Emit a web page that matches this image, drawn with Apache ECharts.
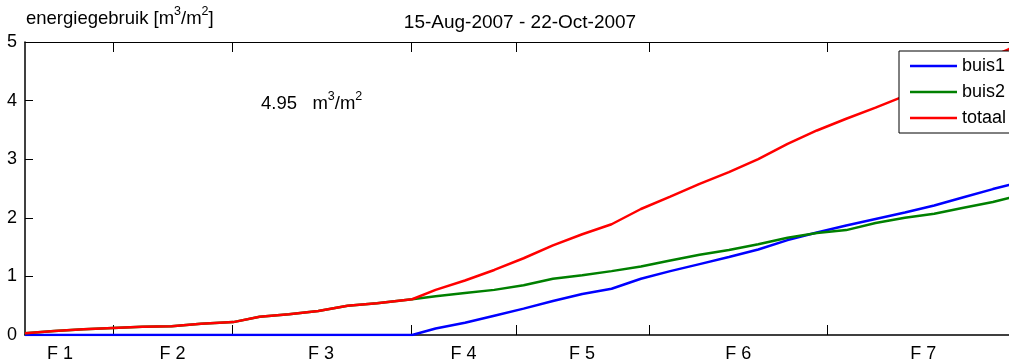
<!DOCTYPE html>
<html>
<head>
<meta charset="utf-8">
<script src="https://cdn.jsdelivr.net/npm/echarts@6/dist/echarts.min.js"></script>
<style>
html,body{margin:0;padding:0;background:#fff;}
#chart{width:1009px;height:363px;}
</style>
</head>
<body>
<div id="chart"></div>
<script>
// x positions in days since 15-Aug-2007
const days = [0,2,4,6,8,10,12,14.2,16,18,20,22,24,26.4,28,30,32,34,36,38,40,42,44,46,48,50,52,54,56,58,60,62,64,66,67.1,68];
const buis1 = [0,0,0,0,0,0,0,0,0,0,0,0,0,0,0.11,0.21,0.33,0.45,0.58,0.70,0.79,0.96,1.09,1.21,1.33,1.46,1.62,1.75,1.87,1.98,2.09,2.21,2.35,2.49,2.56,2.60];
const buis2 = [0.03,0.07,0.10,0.12,0.14,0.15,0.19,0.22,0.31,0.355,0.41,0.50,0.54,0.61,0.66,0.715,0.77,0.85,0.96,1.02,1.09,1.17,1.27,1.37,1.45,1.55,1.66,1.74,1.79,1.91,2.00,2.07,2.17,2.27,2.34,2.35];
const totaal = [0.03,0.07,0.10,0.12,0.14,0.15,0.19,0.22,0.31,0.355,0.41,0.50,0.54,0.61,0.77,0.93,1.11,1.31,1.53,1.72,1.89,2.15,2.36,2.58,2.78,3.00,3.26,3.49,3.69,3.88,4.08,4.28,4.52,4.76,4.88,4.95];
const seriesNames = ['buis1','buis2','totaal'];
const seriesColors = ['#0000ff','#008000','#ff0000'];
// phase boundaries and labels
const phaseBounds = [6.0,14.12,26.37,33.47,42.58,54.70];
const phaseLabelPos = [2.39,10.06,20.19,29.91,37.99,48.63,61.25];
const phaseLabels = ['F 1','F 2','F 3','F 4','F 5','F 6','F 7'];
const yTicks = [0,1,2,3,4,5];
const yTitle = 'energiegebruik [m{sup|3}/m{sup|2}]';
const dateTitle = '15-Aug-2007 - 22-Oct-2007';
const totalText = '4.95   m{sup|3}/m{sup|2}';

const FONT = 'Liberation Sans';
const chart = echarts.init(document.getElementById('chart'));
function richSet(fs){
  return {
    n: {fontSize: fs, fontFamily: FONT, fontWeight: 'normal', color: '#000', verticalAlign: 'bottom', lineHeight: 20},
    sup: {fontSize: 12.5, fontFamily: FONT, fontWeight: 'normal', color: '#000', verticalAlign: 'bottom', lineHeight: 12, padding: [0,0,10,0]}
  };
}
function wrapN(s){ return s.replace(/^([^{]+)/, '{n|$1}').replace(/\}([^{}]+)\{/g, '}{n|$1}{').replace(/\}([^{}]+)$/, '}{n|$1}'); }

function mk(arr){ return days.map((d,i)=>[d, arr[i]]); }
const dataArr = [buis1, buis2, totaal];

chart.setOption({
  animation: false,
  backgroundColor: '#fff',
  textStyle: {fontFamily: FONT},
  title: [
    {text: wrapN(yTitle), left: 26, top: 8, padding: 0,
     textStyle: {rich: richSet(18.5), fontSize: 18, fontWeight: 'normal', color: '#000'}},
    {text: dateTitle, left: 520, top: 13, padding: 0, textAlign: 'center',
     textStyle: {fontSize: 19, fontWeight: 'normal', color: '#000', fontFamily: FONT}},
    {text: wrapN(totalText), left: 261, top: 93, padding: 0,
     textStyle: {rich: richSet(18.5), fontSize: 18, fontWeight: 'normal', color: '#000'}}
  ],
  legend: {
    orient: 'vertical', left: 899, top: 51, z: 20,
    padding: [5, 10, 5, 11],
    itemWidth: 47, itemHeight: 2.5, itemGap: 6,
    icon: 'rect',
    backgroundColor: '#fff', borderColor: '#000', borderWidth: 1, borderRadius: 0,
    textStyle: {fontSize: 18, color: '#000', fontFamily: FONT, lineHeight: 20},
    data: seriesNames
  },
  grid: {left: 25, top: 42, right: 0, bottom: 28, containLabel: false, outerBoundsMode: 'none'},
  xAxis: [
    {type: 'value', min: 0, max: 67.1, position: 'bottom',
     axisLine: {show: true, lineStyle: {color: '#000', width: 1.5}},
     axisTick: {show: true, inside: true, length: 10, customValues: phaseBounds, lineStyle: {color: '#000', width: 1}},
     axisLabel: {show: true, customValues: phaseLabelPos, margin: 10, fontSize: 18, color: '#000', fontFamily: FONT,
       formatter: function(v){ let best=0; for(let i=0;i<phaseLabelPos.length;i++){ if(Math.abs(phaseLabelPos[i]-v)<Math.abs(phaseLabelPos[best]-v)) best=i; } return phaseLabels[best]; }},
     splitLine: {show: false}},
    {type: 'value', min: 0, max: 67.1, position: 'top',
     axisLine: {show: true, lineStyle: {color: '#000', width: 1.2}},
     axisTick: {show: true, inside: true, length: 10, customValues: phaseBounds, lineStyle: {color: '#000', width: 1}},
     axisLabel: {show: false}, splitLine: {show: false}}
  ],
  yAxis: {type: 'value', min: 0, max: 5, interval: 1,
    axisLine: {show: true, lineStyle: {color: '#000', width: 1.5}},
    axisTick: {show: true, inside: true, length: 8, lineStyle: {color: '#000', width: 1}},
    axisLabel: {margin: 8, fontSize: 18, color: '#000', fontFamily: FONT,
      formatter: function(v){ return yTicks.indexOf(v) >= 0 ? String(v) : ''; }},
    splitLine: {show: false}},
  series: seriesNames.map((n,i)=>({
    name: n, type: 'line', data: mk(dataArr[i]), showSymbol: false, symbol: 'none',
    lineStyle: {color: seriesColors[i], width: 2.5}, itemStyle: {color: seriesColors[i]},
    z: 2
  }))
});
</script>
</body>
</html>
